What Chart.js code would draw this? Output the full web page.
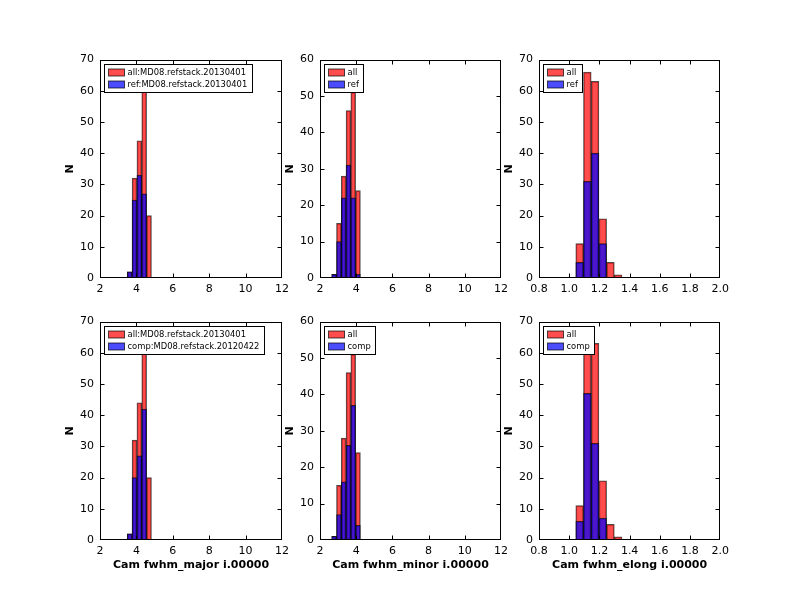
<!DOCTYPE html>
<html>
<head>
<meta charset="utf-8">
<script src="https://cdn.jsdelivr.net/npm/chart.js@4.4.0/dist/chart.umd.min.js"></script>
<style>
  body { margin: 0; background: #fff; }
  #fig { position: relative; width: 800px; height: 600px; background: #fff; }
  #fig canvas { position: absolute; }
</style>
</head>
<body>
<div id="fig"></div>
<script>
// bin centres and counts
const majorBins = [3.63, 3.896, 4.162, 4.428, 4.694];
const majorAll = [2, 32, 44, 62, 20];
const majorRef = [2, 25, 33, 27, 0];
const majorComp = [2, 20, 27, 42, 0];

const minorBins = [2.78, 3.044, 3.308, 3.572, 3.836, 4.1];
const minorAll = [1, 15, 28, 46, 51, 24];
const minorRef = [1, 10, 22, 31, 22, 1];
const minorComp = [1, 7, 16, 26, 37, 4];

const elongBins = [1.069, 1.12, 1.171, 1.222, 1.273, 1.324];
const elongAll = [11, 66, 63, 19, 5, 1];
const elongRef = [5, 31, 40, 11, 0, 0];
const elongComp = [6, 47, 31, 7, 0, 0];

const allLabel = 'all:MD08.refstack.20130401';
const refLabel = 'ref:MD08.refstack.20130401';
const compLabel = 'comp:MD08.refstack.20120422';

const RED = 'rgba(255,0,0,0.7)';
const BLUE = 'rgba(0,0,255,0.7)';
const EDGE = 'rgba(0,0,0,0.7)';

const colLeft = [100, 320, 539];
const colWidth = [182, 181, 181];
const rowTop = [60, 322];
const plotH = 218;
const YW = 45, XH = 45, PT = 10, PR = 10;

// box + inward ticks + legend drawn over the plot area
const framePlugin = {
    id: 'frame',
    afterDatasetsDraw(chart, args, opts) {
        const { ctx, chartArea: a, scales } = chart;
        const L = Math.round(a.left) + 0.5, T = Math.round(a.top) + 0.5;
        const R = Math.round(a.right) - 0.5, B = Math.round(a.bottom) - 0.5;
        ctx.save();
        ctx.strokeStyle = '#000';
        ctx.lineWidth = 1;
        ctx.beginPath();
        scales.x.ticks.forEach(t => {
            let px = Math.round(scales.x.getPixelForValue(t.value)) + 0.5;
            px = Math.min(Math.max(px, L), R);
            ctx.moveTo(px, B); ctx.lineTo(px, B - 4);
            ctx.moveTo(px, T); ctx.lineTo(px, T + 4);
        });
        scales.y.ticks.forEach(t => {
            let py = Math.round(scales.y.getPixelForValue(t.value)) + 0.5;
            py = Math.min(Math.max(py, T), B);
            ctx.moveTo(L, py); ctx.lineTo(L + 4, py);
            ctx.moveTo(R, py); ctx.lineTo(R - 4, py);
        });
        ctx.stroke();
        ctx.strokeRect(L, T, R - L, B - T);

        // legend
        const items = opts.items || [];
        ctx.font = '8.4px "DejaVu Sans"';
        const tw = Math.max(...items.map(it => ctx.measureText(it.label).width));
        const bx = L + 4, by = T + 4;
        const bw = Math.round(23 + tw + 5), bh = 28;
        ctx.fillStyle = '#fff';
        ctx.fillRect(bx, by, bw, bh);
        ctx.strokeStyle = '#000';
        ctx.strokeRect(bx, by, bw, bh);
        items.forEach((it, i) => {
            const cy = by + 8 + i * 12;
            ctx.fillStyle = it.color;
            ctx.fillRect(bx + 4, cy - 3.5, 16, 7);
            ctx.strokeStyle = EDGE;
            ctx.strokeRect(bx + 4, cy - 3.5, 16, 7);
            ctx.fillStyle = '#000';
            ctx.textBaseline = 'middle';
            ctx.fillText(it.label, bx + 23, cy);
        });
        ctx.restore();
    }
};

function buildChart(canvas, cfg) {
    const toXY = (bins, vals) => bins.map((b, i) => ({ x: b, y: vals[i] }));
    return new Chart(canvas.getContext('2d'), {
        type: 'bar',
        data: {
            datasets: [{
                label: cfg.legend[0],
                data: toXY(cfg.bins, cfg.all),
                backgroundColor: RED,
                borderColor: EDGE,
                borderWidth: 1,
                order: 2
            }, {
                label: cfg.legend[1],
                data: toXY(cfg.bins, cfg.sub),
                backgroundColor: BLUE,
                borderColor: EDGE,
                borderWidth: 1,
                order: 1
            }]
        },
        options: {
            responsive: false,
            animation: false,
            devicePixelRatio: 1,
            grouped: false,
            barPercentage: 1,
            categoryPercentage: 1,
            layout: { padding: { left: 0, top: PT, right: PR, bottom: 0 } },
            scales: {
                x: {
                    type: 'linear',
                    offset: false,
                    min: cfg.xmin, max: cfg.xmax,
                    grid: { display: false, drawTicks: false },
                    border: { display: false },
                    ticks: {
                        stepSize: cfg.xstep,
                        padding: 5,
                        color: '#000',
                        font: { family: 'DejaVu Sans', size: 11 },
                        callback: v => cfg.xdec ? v.toFixed(cfg.xdec) : String(v)
                    },
                    title: {
                        display: !!cfg.xtitle,
                        text: cfg.xtitle,
                        color: '#000',
                        font: { family: 'DejaVu Sans', size: 11, weight: 'bold' },
                        padding: { top: 0, bottom: 13 }
                    },
                    afterFit: s => { s.height = XH; }
                },
                y: {
                    min: 0, max: cfg.ymax,
                    grid: { display: false, drawTicks: false },
                    border: { display: false },
                    ticks: {
                        stepSize: 10,
                        padding: 6,
                        color: '#000',
                        font: { family: 'DejaVu Sans', size: 11 }
                    },
                    title: {
                        display: true,
                        text: 'N',
                        color: '#000',
                        font: { family: 'DejaVu Sans', size: 11, weight: 'bold' },
                        padding: { top: 9, bottom: 0 }
                    },
                    afterFit: s => { s.width = YW; }
                }
            },
            plugins: {
                legend: { display: false },
                tooltip: { enabled: false },
                frame: {
                    items: [
                        { label: cfg.legend[0], color: RED },
                        { label: cfg.legend[1], color: BLUE }
                    ]
                }
            }
        },
        plugins: [framePlugin]
    });
}

function makePanel(col, row, cfg) {
    let w = YW + colWidth[col] + PR;
    let h = PT + plotH + XH;
    let chart = null;
    // build, then nudge the canvas so the plot box lands where the reference has it
    for (let pass = 0; pass < 3; pass++) {
        const canvas = document.createElement('canvas');
        canvas.width = w; canvas.height = h;
        canvas.style.width = w + 'px';
        canvas.style.height = h + 'px';
        document.getElementById('fig').appendChild(canvas);
        chart = buildChart(canvas, cfg);
        const a = chart.chartArea;
        canvas.style.left = (colLeft[col] - a.left) + 'px';
        canvas.style.top = (rowTop[row] - a.top) + 'px';
        const dw = colWidth[col] - (a.right - a.left);
        const dh = plotH - (a.bottom - a.top);
        if (Math.abs(dw) < 0.5 && Math.abs(dh) < 0.5) break;
        chart.destroy();
        canvas.remove();
        w = Math.round(w + dw);
        h = Math.round(h + dh);
    }
    return chart;
}

makePanel(0, 0, { bins: majorBins, all: majorAll, sub: majorRef,
    legend: [allLabel, refLabel], xmin: 2, xmax: 12, xstep: 2, ymax: 70 });
makePanel(1, 0, { bins: minorBins, all: minorAll, sub: minorRef,
    legend: ['all', 'ref'], xmin: 2, xmax: 12, xstep: 2, ymax: 60 });
makePanel(2, 0, { bins: elongBins, all: elongAll, sub: elongRef,
    legend: ['all', 'ref'], xmin: 0.8, xmax: 2.0, xstep: 0.2, xdec: 1, ymax: 70 });
makePanel(0, 1, { bins: majorBins, all: majorAll, sub: majorComp,
    legend: [allLabel, compLabel], xmin: 2, xmax: 12, xstep: 2, ymax: 70, xtitle: 'Cam fwhm_major i.00000' });
makePanel(1, 1, { bins: minorBins, all: minorAll, sub: minorComp,
    legend: ['all', 'comp'], xmin: 2, xmax: 12, xstep: 2, ymax: 60, xtitle: 'Cam fwhm_minor i.00000' });
makePanel(2, 1, { bins: elongBins, all: elongAll, sub: elongComp,
    legend: ['all', 'comp'], xmin: 0.8, xmax: 2.0, xstep: 0.2, xdec: 1, ymax: 70, xtitle: 'Cam fwhm_elong i.00000' });
</script>
</body>
</html>
